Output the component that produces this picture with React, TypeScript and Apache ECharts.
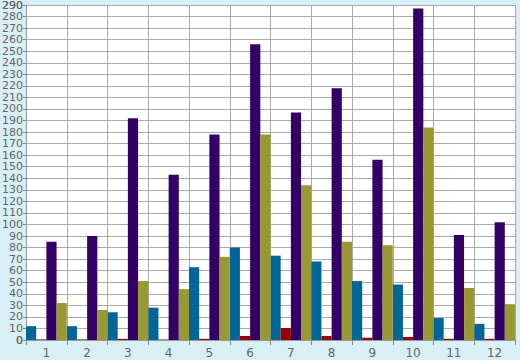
import React, { useEffect, useRef } from "react";
import * as echarts from "echarts";

const categories = ["1", "2", "3", "4", "5", "6", "7", "8", "9", "10", "11", "12"];
const seriesBlue = [12, 12, 24, 28, 63, 80, 73, 68, 51, 48, 19, 14];
const seriesRed = [0.5, 0.5, 1, 0.4, 1, 3.5, 10.4, 3.5, 2, 2.6, 1, 1];
const seriesPurple = [85, 90, 192, 143, 178, 256, 197, 218, 156, 287, 91, 102];
const seriesOlive = [32, 26, 51, 44, 72, 178, 134, 85, 82, 184, 45, 31];
const yMin = 0;
const yMax = 290;
const yStep = 10;

const colors = ["#006699", "#990000", "#330066", "#999933"];

export default function App() {
  const ref = useRef<HTMLDivElement>(null);
  useEffect(() => {
    if (!ref.current) return;
    const chart = echarts.init(ref.current, null, { renderer: "svg" });
    const mk = (name: string, data: number[], i: number) => ({
      name,
      type: "bar" as const,
      data,
      yAxisIndex: 0,
      barGap: "0%",
      barCategoryGap: "0%",
      itemStyle: { color: colors[i] },
    });
    const labelStyle = {
      color: "#666666",
      fontSize: 11,
      lineHeight: 10,
      margin: 3,
    };
    chart.setOption({
      animation: false,
      backgroundColor: "#d9eff6",
      textStyle: { fontFamily: "DejaVu Sans" },
      grid: {
        left: 26,
        right: 5,
        top: 5,
        bottom: 20,
        show: true,
        backgroundColor: "#ffffff",
        borderWidth: 0,
        containLabel: false,
        outerBoundsMode: "none",
      },
      xAxis: {
        type: "category",
        data: categories,
        axisLine: { lineStyle: { color: "#999999", width: 1 } },
        axisTick: { show: true, length: 5, lineStyle: { color: "#888888" } },
        splitLine: { show: true, lineStyle: { color: "#aaaaaa", width: 1 } },
        axisLabel: { color: "#666666", fontSize: 12, margin: 7 },
      },
      yAxis: [
        {
          type: "value",
          position: "left",
          min: yMin,
          max: yMax,
          interval: yStep,
          axisLine: { show: true, lineStyle: { color: "#999999" } },
          axisTick: { show: true, length: 3, lineStyle: { color: "#888888" } },
          splitLine: { show: true, lineStyle: { color: "#aaaaaa", width: 1 } },
          axisLabel: labelStyle,
        },
        {
          type: "value",
          position: "left",
          offset: 0,
          min: yMin,
          max: yMax,
          interval: yStep,
          axisLine: { show: false },
          axisTick: { show: false },
          splitLine: { show: false },
          axisLabel: {
            ...labelStyle,
            formatter: (v: number) => (v === yMin || v === yMax ? String(v) : ""),
          },
        },
      ],
      series: [
        mk("A", seriesBlue, 0),
        mk("B", seriesRed, 1),
        mk("C", seriesPurple, 2),
        mk("D", seriesOlive, 3),
      ],
    });
    return () => chart.dispose();
  }, []);
  return (
    <div
      ref={ref}
      style={{ position: "fixed", left: 0, top: 0, width: 520, height: 360 }}
    />
  );
}
